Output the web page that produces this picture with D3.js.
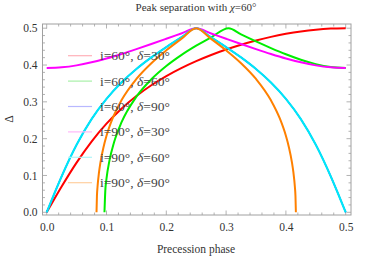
<!DOCTYPE html>
<html><head><meta charset="utf-8">
<script src="https://cdn.jsdelivr.net/npm/d3@7"></script>
<style>body{margin:0;background:#fff}svg{display:block}</style>
</head><body>
<svg id="c" width="374" height="259"></svg>
<script>
// Data (precession phase, Δ)
const redPhase   = [0,0.0125,0.025,0.05,0.075,0.1,0.125,0.15,0.175,0.2,0.225,0.25,0.275,0.3,0.325,0.35,0.375,0.4,0.425,0.45,0.475,0.5];
const redDelta   = [0,0.0353,0.0698,0.1348,0.1920,0.2407,0.2815,0.3159,0.3450,0.3700,0.3916,0.4106,0.4273,0.4421,0.4551,0.4666,0.4765,0.4847,0.4913,0.4961,0.4990,0.5];
const greenPhase = [0.0966,0.098,0.1,0.105,0.1125,0.125,0.15,0.175,0.2,0.225,0.25,0.275,0.3041,0.325,0.35,0.375,0.4,0.425,0.45,0.475,0.5];
const greenDelta = [0,0.0589,0.0913,0.1411,0.1894,0.2440,0.3140,0.3612,0.3972,0.4268,0.4524,0.4754,0.5,0.4833,0.4642,0.4461,0.4292,0.4144,0.4024,0.3946,0.3918];
const cyanPhase  = [0,0.0125,0.025,0.05,0.075,0.1,0.125,0.15,0.175,0.2,0.225,0.25,0.275,0.3,0.325,0.35,0.375,0.4,0.425,0.45,0.475,0.4875,0.5];
const cyanDelta  = [0,0.0497,0.0976,0.1834,0.2530,0.3081,0.3524,0.3891,0.4206,0.4487,0.4749,0.5,0.4749,0.4487,0.4206,0.3891,0.3524,0.3081,0.2530,0.1834,0.0976,0.0497,0];
const bluePhase  = cyanPhase;
const blueDelta  = cyanDelta;
const magentaPhase = [0,0.025,0.05,0.075,0.1,0.125,0.15,0.175,0.2,0.225,0.25,0.275,0.3,0.325,0.35,0.375,0.4,0.425,0.45,0.475,0.5];
const magentaDelta = [0.3918,0.3937,0.3990,0.4073,0.4178,0.4300,0.4432,0.4570,0.4712,0.4856,0.5,0.4856,0.4712,0.4570,0.4432,0.4300,0.4178,0.4073,0.3990,0.3937,0.3918];
const orangePhase = [0.0833,0.084,0.085,0.0875,0.09,0.095,0.1,0.11,0.125,0.15,0.175,0.2,0.225,0.25,0.275,0.3,0.325,0.35,0.375,0.39,0.4,0.405,0.41,0.4125,0.415,0.416,0.4167];
const orangeDelta = [0,0.0441,0.0693,0.1088,0.1365,0.1769,0.2077,0.2541,0.3041,0.3622,0.4050,0.4399,0.4709,0.5,0.4709,0.4399,0.4050,0.3622,0.3041,0.2541,0.2077,0.1769,0.1365,0.1088,0.0693,0.0441,0];

const seriesNames = ["i=60°, δ=30°","i=60°, δ=60°","i=60°, δ=90°","i=90°, δ=30°","i=90°, δ=60°","i=90°, δ=90°"];
const seriesColors = ["#ff0000","#00ee00","#0000ff","#ff00ff","#00e8f8","#ff8000"];
const legendColors = ["#ffb0b8","#a8f0a8","#b8b8ff","#ffb8f8","#b0f4f8","#ffd0a0"];
const seriesWidths = [2,2,1.4,2,2.1,2];
const xTicks = [0,0.1,0.2,0.3,0.4,0.5];
const yTicks = [0,0.1,0.2,0.3,0.4,0.5];
const titleText = "Peak separation with ";
const xLabel = "Precession phase";
const yLabel = "Δ";

const series = [
  [redPhase, redDelta], [greenPhase, greenDelta], [bluePhase, blueDelta],
  [magentaPhase, magentaDelta], [cyanPhase, cyanDelta], [orangePhase, orangeDelta]
].map((s,i)=>({name:seriesNames[i], color:seriesColors[i], lcolor:legendColors[i], w:seriesWidths[i], pts:s[0].map((p,j)=>[p,s[1][j]])}));

const svg = d3.select("#c");
const x = d3.scaleLinear().domain([0,0.5]).range([46.7,345.7]);
const y = d3.scaleLinear().domain([0,0.5]).range([212.3,28.2]);
const fL=42.5, fR=351, fT=24, fB=215;
const font = "'Liberation Serif','Times New Roman',serif";

// frame
svg.append("rect").attr("x",fL).attr("y",fT).attr("width",fR-fL).attr("height",fB-fT)
  .attr("fill","none").attr("stroke","#a0a0a0").attr("stroke-width",1);

// ticks
const minorX = d3.range(0,0.5001,0.02);
const minorY = d3.range(0,0.5001,0.02);
const tg = svg.append("g").attr("stroke","#a0a0a0").attr("stroke-width",0.8);
minorX.forEach(v=>{
  const major = xTicks.some(t=>Math.abs(t-v)<1e-6);
  const L = major?4.5:2.5, px=x(v);
  tg.append("line").attr("x1",px).attr("x2",px).attr("y1",fB).attr("y2",fB-L);
  tg.append("line").attr("x1",px).attr("x2",px).attr("y1",fT).attr("y2",fT+L);
});
minorY.forEach(v=>{
  const major = yTicks.some(t=>Math.abs(t-v)<1e-6);
  const L = major?4.5:2.5, py=y(v);
  tg.append("line").attr("x1",fL).attr("x2",fL+L).attr("y1",py).attr("y2",py);
  tg.append("line").attr("x1",fR).attr("x2",fR-L).attr("y1",py).attr("y2",py);
});

// axes labels via d3 axes (no domain, no ticks)
const xa = svg.append("g").attr("transform",`translate(0,${fB})`)
  .call(d3.axisBottom(x).tickValues(xTicks).tickFormat(d3.format(".1f")).tickSize(0).tickPadding(8));
xa.attr("font-family",font);
xa.select(".domain").remove();
xa.selectAll("text").attr("font-family",font).attr("font-size",11.5).attr("fill","#333");
const ya = svg.append("g").attr("transform",`translate(${fL},0)`)
  .call(d3.axisLeft(y).tickValues(yTicks).tickFormat(d3.format(".1f")).tickSize(0).tickPadding(5));
ya.attr("font-family",font);
ya.select(".domain").remove();
ya.selectAll("text").attr("font-family",font).attr("font-size",11.5).attr("fill","#333");

// curves
const line = d3.line().x(d=>x(d[0])).y(d=>y(d[1])).curve(d3.curveMonotoneX);
series.forEach(s=>{
  svg.append("path").datum(s.pts).attr("d",line).attr("fill","none")
    .attr("stroke",s.color).attr("stroke-width",s.w).attr("stroke-linejoin","round");
});

// legend
series.forEach((s,i)=>{
  const ly = 55.7 + i*25.4;
  svg.append("line").attr("x1",68).attr("x2",92).attr("y1",ly).attr("y2",ly)
    .attr("stroke",s.lcolor).attr("stroke-width",1.2);
  const parts = s.name.split("δ");
  const t = svg.append("text").attr("x",100).attr("y",ly+4.5)
    .attr("font-family",font).attr("font-size",13.5).attr("fill","#444");
  t.append("tspan").text(parts[0]);
  t.append("tspan").attr("font-style","italic").text("δ");
  t.append("tspan").text(parts[1]);
});

// title
const tt = svg.append("text").attr("x",196).attr("y",11).attr("text-anchor","middle")
  .attr("font-family",font).attr("font-size",11).attr("fill","#333");
tt.append("tspan").text(titleText);
tt.append("tspan").attr("font-style","italic").text("χ");
tt.append("tspan").text("=60°");

svg.append("text").attr("x",196).attr("y",253).attr("text-anchor","middle")
  .attr("font-family",font).attr("font-size",11.5).attr("fill","#333").text(xLabel);
svg.append("text").attr("transform","translate(13,119) rotate(-90)").attr("text-anchor","middle")
  .attr("font-family",font).attr("font-size",11.5).attr("fill","#333").text(yLabel);
</script>
</body></html>
